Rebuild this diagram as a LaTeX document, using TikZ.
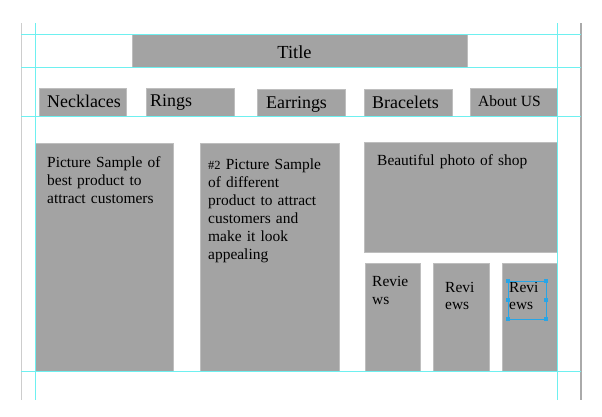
\documentclass[tikz,border=0pt]{standalone}
\usepackage{fontspec}
\setmainfont{Liberation Serif}
\definecolor{boxgray}{RGB}{163,163,163}
\definecolor{boxedge}{RGB}{190,190,190}
\definecolor{guidecyan}{RGB}{110,240,240}
\definecolor{railgray}{RGB}{205,205,205}
\definecolor{raildark}{RGB}{170,170,170}
\definecolor{selblue}{RGB}{40,165,230}
\begin{document}
\begin{tikzpicture}[x=1bp,y=-1bp,
  box/.style={fill=boxgray,draw=boxedge,line width=0.6bp,inner sep=0pt,anchor=north west},
  navtxt/.style={inner sep=0pt,anchor=base west,font=\fontsize{18}{21}\selectfont},
  bodytxt/.style={inner sep=0pt,anchor=base west,align=left,text width=150bp,font=\fontsize{15.5}{18.2}\selectfont},
  guide/.style={draw=guidecyan,line width=1.1bp},
  sel/.style={draw=selblue,line width=0.7bp},
  handle/.style={fill=selblue}]
\useasboundingbox (0,0) rectangle (602,416);
% boxes
\node[box,minimum width=335bp,minimum height=33bp] (titlebox) at (132,34) {};
\node[box,minimum width=87bp,minimum height=28bp] (neckbox) at (39,88) {};
\node[box,minimum width=88bp,minimum height=28bp] (ringbox) at (146,88) {};
\node[box,minimum width=88bp,minimum height=27bp] (earbox) at (257,89) {};
\node[box,minimum width=88bp,minimum height=27bp] (bracbox) at (364,89) {};
\node[box,minimum width=87bp,minimum height=28bp] (aboutbox) at (470,88) {};
\node[box,minimum width=138bp,minimum height=228bp] (pic1box) at (35,143) {};
\node[box,minimum width=139bp,minimum height=228bp] (pic2box) at (200,143) {};
\node[box,minimum width=193bp,minimum height=110bp] (shopbox) at (364,142) {};
\node[box,minimum width=55bp,minimum height=108bp] (rev1box) at (365,263) {};
\node[box,minimum width=56bp,minimum height=108bp] (rev2box) at (433,263) {};
\node[box,minimum width=55bp,minimum height=108bp] (rev3box) at (502,263) {};
% texts
\node[inner sep=0pt,anchor=base,font=\fontsize{18.5}{21}\selectfont] (titletxt) at (294.5,58) {Title};
\node[navtxt] (necktxt) at (47,107) {Necklaces};
\node[navtxt] (ringtxt) at (150,106) {Rings};
\node[navtxt] (eartxt) at (266,108.5) {Earrings};
\node[navtxt] (bractxt) at (372,108) {Bracelets};
\node[navtxt,font=\fontsize{15.6}{18}\selectfont] (abouttxt) at (478,106) {About US};
\node[bodytxt] (pic1txt) at (47,167) {Picture Sample of\\best product to\\attract customers};
\node[bodytxt] (pic2txt) at (208,169) {{\fontsize{12.5}{18.2}\selectfont\#2} Picture Sample\\of different\\product to attract\\customers and\\make it look\\appealing};
\node[bodytxt,text width=180bp] (shoptxt) at (377,165) {Beautiful photo of shop};
\node[bodytxt,text width=50bp] (rev1txt) at (372,286) {Revie\\ws};
\node[bodytxt,text width=50bp,font=\fontsize{15.5}{17.2}\selectfont] (rev2txt) at (445,292) {Revi\\ews};
\node[bodytxt,text width=50bp,font=\fontsize{15.5}{17.2}\selectfont] (rev3txt) at (509,292) {Revi\\ews};
% guides
\draw[railgray,line width=1bp] (21.5,23) -- (21.5,400);
\draw[raildark,line width=1.5bp] (581,23) -- (581,400);
\draw[guide] (35.5,23) -- (35.5,400);
\draw[guide] (557.5,23) -- (557.5,400);
\draw[guide] (21,34.5) -- (581,34.5);
\draw[guide] (21,67.5) -- (581,67.5);
\draw[guide] (21,116.5) -- (581,116.5);
\draw[guide] (21,371.5) -- (581,371.5);
% selection frame
\draw[sel] (508,281) rectangle (546,319);
\foreach \hx/\hy in {508/281,546/281,508/319,546/319,508/300,546/300}
  \fill[handle] (\hx-1.6,\hy-1.6) rectangle (\hx+1.6,\hy+1.6);
\end{tikzpicture}
\end{document}
